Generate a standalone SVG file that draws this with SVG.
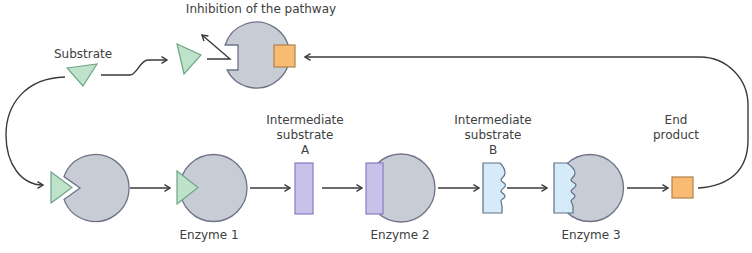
<svg xmlns="http://www.w3.org/2000/svg" width="752" height="253" viewBox="0 0 752 253">
<style>
text{font-family:"DejaVu Sans","Liberation Sans",sans-serif;font-size:12px;fill:#404040;text-anchor:middle}
.enz{fill:#c8ccd4;stroke:#6d7387;stroke-width:1.3}
.tri{fill:#bfe2cb;stroke:#6fa587;stroke-width:1.2}
.ra{fill:#c8c2ea;stroke:#857cc0;stroke-width:1.2}
.rb{fill:#d5ebfa;stroke:#5f7186;stroke-width:1.2}
.ep{fill:#f9bb72;stroke:#b0804e;stroke-width:1.2}
.ln{fill:none;stroke:#3a3a3a;stroke-width:1.4}
</style>
<defs>
<marker id="ah" viewBox="0 0 8 8" refX="7" refY="4" markerWidth="8" markerHeight="8" markerUnits="userSpaceOnUse" orient="auto">
<path d="M1.5,0.6 L7,4 L1.5,7.4" fill="none" stroke="#3a3a3a" stroke-width="1.4"/>
</marker>
</defs>

<g id="connectors">
<path class="ln" d="M65,77 C25,78 6,105 6,135 C6,165 22,185 43,185" marker-end="url(#ah)"/>
<path class="ln" d="M101,75 H130 C137,75 140,60 148,60 H167" marker-end="url(#ah)"/>
<path class="ln" d="M207,59 H230 L202,35" marker-end="url(#ah)"/>
<path class="ln" d="M130,188 H170" marker-end="url(#ah)"/>
<path class="ln" d="M250,188 H290" marker-end="url(#ah)"/>
<path class="ln" d="M322,188 H362" marker-end="url(#ah)"/>
<path class="ln" d="M438,188 H479" marker-end="url(#ah)"/>
<path class="ln" d="M507,188 H547" marker-end="url(#ah)"/>
<path class="ln" d="M627,188 H668" marker-end="url(#ah)"/>
<path class="ln" d="M698,188 C730,186 748,170 748,140 V105 A48,48 0 0 0 700,57 H305" marker-end="url(#ah)"/>
</g>

<g id="title">
<text x="261" y="13">Inhibition of the pathway</text>
</g>

<g id="substrate">
<text x="83" y="58">Substrate</text>
<path class="tri" d="M67,68 L97,64 L83,86 Z"/>
</g>

<g id="substrate-released">
<path class="tri" d="M177,44 L201,55 L184,74 Z"/>
</g>

<g id="inhibited-enzyme">
<path class="enz" d="M225.1,45 H238 V70 H227.1 A33,33 0 1 0 225.1,45 Z"/>
<rect class="ep" x="274" y="45" width="21" height="22"/>
</g>

<g id="enzyme-free">
<path class="enz" d="M64,176.6 L80,188 L64,199.4 A33.5,33.5 0 1 0 64,176.6 Z"/>
<path class="tri" d="M51,172 L72,187.5 L51,203 Z"/>
</g>

<g id="enzyme1">
<circle class="enz" cx="213.5" cy="188" r="33.5"/>
<path class="tri" d="M177,171 L198,187.5 L177,204 Z"/>
<text x="209" y="238.5">Enzyme 1</text>
</g>

<g id="intermediate-a">
<text x="305" y="123.5">Intermediate</text>
<text x="305" y="138.5">substrate</text>
<text x="305" y="154">A</text>
<rect class="ra" x="295" y="163" width="18" height="51"/>
</g>

<g id="enzyme2">
<circle class="enz" cx="401" cy="188" r="34"/>
<rect class="ra" x="366" y="163" width="17" height="51"/>
<text x="400" y="238.5">Enzyme 2</text>
</g>

<g id="intermediate-b">
<text x="493" y="123.5">Intermediate</text>
<text x="493" y="138.5">substrate</text>
<text x="493" y="154">B</text>
<path class="rb" d="M483,163 H500 C502,165 505,169 505,173 C505,177 501,178 501,180 C501,182 505.5,183 505.5,185 C505.5,188 501,189 501,191 C501,193 505,194 505,196 C505,199 501,199 501,201 L502,206 V213 H483 Z"/>
</g>

<g id="enzyme3">
<circle class="enz" cx="590" cy="188" r="33.5"/>
<path class="rb" d="M554,163 H567 C570,165 575,169 575,173 C575,177 571,178 571,180 C571,182 576,183 576,185 C576,188 571,189 571,191 C571,193 575,194 575,196 C575,199 571,199 571,201 L573,206 V213 H554 Z"/>
<text x="591" y="238.5">Enzyme 3</text>
</g>

<g id="end-product">
<text x="676" y="123.5">End</text>
<text x="676" y="138.5">product</text>
<rect class="ep" x="672" y="177" width="21" height="21"/>
</g>
</svg>
